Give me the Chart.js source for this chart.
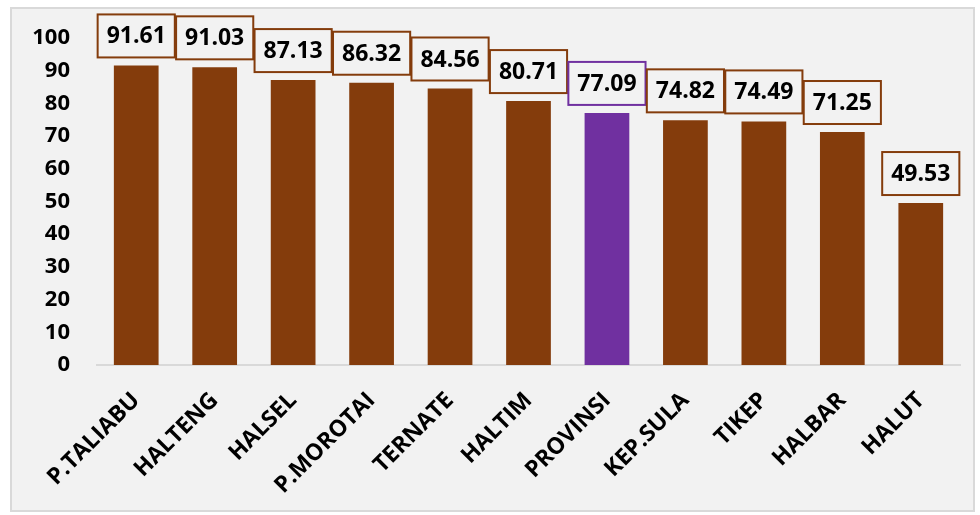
<!DOCTYPE html>
<html>
<head>
<meta charset="utf-8">
<script src="https://cdn.jsdelivr.net/npm/chart.js@4"></script>
<style>
    body { margin: 0; background: #ffffff; }
    #box {
        position: absolute; left: 10px; top: 7px;
        width: 961px; height: 501px;
        border: 2px solid #D9D9D9;
        background: #F2F2F2;
    }
</style>
</head>
<body>
<div id="box"><canvas id="kabChart"></canvas></div>
<script>
const categories = ['P.TALIABU', 'HALTENG', 'HALSEL', 'P.MOROTAI', 'TERNATE', 'HALTIM',
    'PROVINSI', 'KEP.SULA', 'TIKEP', 'HALBAR', 'HALUT'];
const values = [91.61, 91.03, 87.13, 86.32, 84.56, 80.71, 77.09, 74.82, 74.49, 71.25, 49.53];
const yTicks = [0, 10, 20, 30, 40, 50, 60, 70, 80, 90, 100];

const BROWN = '#843C0C';
const PURPLE = '#7030A0';
const barColors = categories.map(c => c === 'PROVINSI' ? PURPLE : BROWN);
const fontFamily = '"Open Sans", Lato, sans-serif';

// boxed value labels above each bar
const boxLabels = {
    id: 'boxLabels',
    afterDatasetsDraw(chart) {
        const ctx = chart.ctx;
        const meta = chart.getDatasetMeta(0);
        ctx.save();
        ctx.font = 'bold 23px ' + fontFamily;
        ctx.textAlign = 'center';
        ctx.textBaseline = 'middle';
        meta.data.forEach((bar, i) => {
            const txt = values[i].toFixed(2);
            const w = ctx.measureText(txt).width + 18;
            const h = 43;
            const bottom = bar.y - 8;
            ctx.fillStyle = '#F2F2F2';
            ctx.fillRect(bar.x - w / 2, bottom - h, w, h);
            ctx.strokeStyle = barColors[i];
            ctx.lineWidth = 2;
            ctx.strokeRect(bar.x - w / 2, bottom - h, w, h);
            ctx.fillStyle = '#000';
            ctx.fillText(txt, bar.x, bottom - h / 2 + 1);
        });
        ctx.restore();
    }
};

new Chart(document.getElementById('kabChart'), {
    type: 'bar',
    data: {
        labels: categories,
        datasets: [{
            data: values,
            backgroundColor: barColors,
            barPercentage: 0.57,
            categoryPercentage: 1
        }]
    },
    options: {
        responsive: true,
        maintainAspectRatio: false,
        animation: false,
        layout: { padding: { top: 29, right: 13, bottom: 0, left: 0 } },
        plugins: {
            legend: { display: false },
            tooltip: { enabled: false }
        },
        scales: {
            x: {
                grid: { display: false, drawTicks: false },
                border: { display: true, color: '#D9D9D9', width: 2 },
                ticks: {
                    color: '#000',
                    font: { family: fontFamily, size: 23, weight: 'bold' },
                    minRotation: 45,
                    maxRotation: 45,
                    padding: 22,
                    autoSkip: false
                },
                afterFit(s) { s.height = 145; }
            },
            y: {
                min: 0,
                max: 100,
                afterBuildTicks(s) { s.ticks = yTicks.map(v => ({ value: v })); },
                // tick marks hidden, tickLength only used to push labels left
                grid: { display: false, drawTicks: true, tickLength: 24 },
                border: { display: false },
                ticks: {
                    color: '#000',
                    font: { family: fontFamily, size: 22, weight: 'bold' },
                    padding: 3
                },
                afterFit(s) { s.width = 85; }
            }
        }
    },
    plugins: [boxLabels]
});
</script>
</body>
</html>
